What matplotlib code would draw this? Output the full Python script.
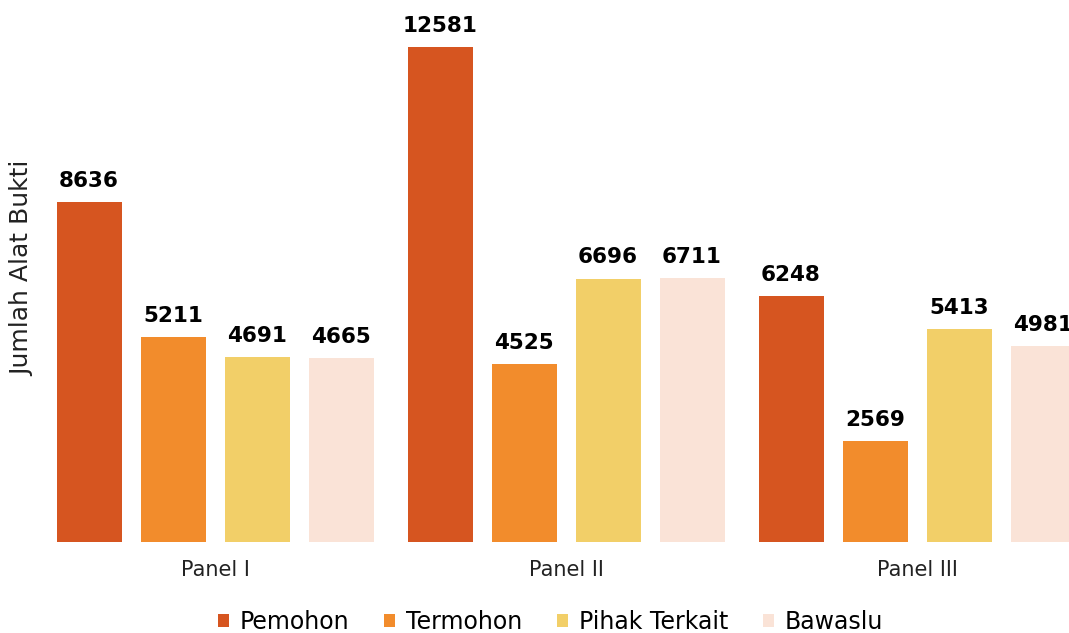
import numpy as np
import matplotlib
matplotlib.use("Agg")
import matplotlib.pyplot as plt

# data
panels = ["Panel I", "Panel II", "Panel III"]
series = ["Pemohon", "Termohon", "Pihak Terkait", "Bawaslu"]
pemohon = [8636, 12581, 6248]
termohon = [5211, 4525, 2569]
pihak_terkait = [4691, 6696, 5413]
bawaslu = [4665, 6711, 4981]

colors = ["#D65520", "#F28C2C", "#F2CF68", "#FAE3D7"]

plt.rcParams['font.family'] = ['DejaVu Sans']

fig = plt.figure(figsize=(10.69, 6.33), dpi=100)
ax = fig.add_axes([55 / 1069, (633 - 542) / 633, 1 - 55 / 1069, 542 / 633])

x = np.arange(len(panels))
step = 84 / 351
width = 65 / 351
values = [pemohon, termohon, pihak_terkait, bawaslu]

for i, (name, vals) in enumerate(zip(series, values)):
    pos = x + (i - 1.5) * step
    bars = ax.bar(pos, vals, width, color=colors[i], label=name)
    for b, v in zip(bars, vals):
        ax.annotate(str(v), (b.get_x() + b.get_width() / 2, v),
                    xytext=(0, 8), textcoords="offset points",
                    ha="center", va="bottom", fontsize=15.5,
                    fontweight="bold", color="#000000", annotation_clip=False)

ax.set_xlim(-0.456, 2.433)
ax.set_ylim(0, 13775)
ax.set_xticks(x)
ax.set_xticklabels(panels, fontsize=15, color="#222222")
ax.tick_params(axis="x", length=0, pad=13)
ax.set_yticks([])
for s in ax.spines.values():
    s.set_visible(False)

fig.text(0.021, (633 - 268) / 633, "Jumlah Alat Bukti", rotation=90,
         ha="center", va="center", fontsize=18, color="#222222")

fig.legend(loc="center", bbox_to_anchor=(0.515, (633 - 622) / 633), ncol=4,
           frameon=False, fontsize=17, handlelength=0.45, handleheight=0.45,
           handletextpad=0.45, columnspacing=1.5)

fig.savefig("out.png", dpi=100)
